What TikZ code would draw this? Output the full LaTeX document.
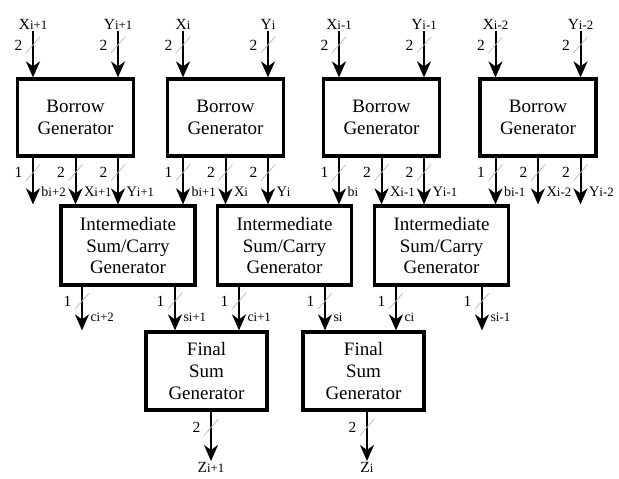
\documentclass[tikz,border=0pt]{standalone}
\usepackage{fontspec}
\setmainfont{Liberation Serif}
\usetikzlibrary{arrows.meta}
\newcommand\lsub[1]{{\fontsize{12.8}{12.8}\selectfont #1}}
\newcommand\lowl[1]{{\fontsize{14}{14}\selectfont #1}}
\begin{document}
\begin{tikzpicture}[x=1pt,y=-1pt,
  box/.style={draw,line width=3.2pt,align=center,font=\fontsize{19}{21.7}\selectfont,inner sep=0pt},
  bgbox/.style={box,minimum width=116pt,minimum height=77pt},
  igbox/.style={box,minimum width=134pt,minimum height=79pt},
  fsbox/.style={box,minimum width=121pt,minimum height=78pt},
  arr/.style={line width=2pt,-{Stealth[length=16pt,width=14pt,inset=5pt]}},
  toplbl/.style={font=\fontsize{15.5}{15.5}\selectfont,inner sep=1pt,anchor=south},
  botlbl/.style={font=\fontsize{15.5}{15.5}\selectfont,inner sep=1pt,anchor=north},
  tiplbl/.style={font=\fontsize{14.5}{14.5}\selectfont,inner sep=0pt,anchor=west,xshift=7.5pt},
  numlbl/.style={font=\fontsize{15.5}{15.5}\selectfont,inner sep=0pt},
  slashline/.style={draw=gray!55,line width=0.7pt,-},
  bus/.pic={\draw[slashline] (-7pt,-8pt) -- (7pt,8pt); \node[numlbl] at (-14.5pt,0pt) {#1};}
]
\useasboundingbox (0,0) rectangle (619,479);
% Borrow generators
\node[bgbox] (bg1) at (75.5,117.5) {Borrow\\Generator};
\node[bgbox] (bg2) at (225.5,117.5) {Borrow\\Generator};
\node[bgbox] (bg3) at (381.5,117.5) {Borrow\\Generator};
\node[bgbox] (bg4) at (538,117.5) {Borrow\\Generator};
% Intermediate
\node[igbox] (ig1) at (128,245.5) {Intermediate\\Sum/Carry\\Generator};
\node[igbox] (ig2) at (284.5,245.5) {Intermediate\\Sum/Carry\\Generator};
\node[igbox] (ig3) at (441.5,245.5) {Intermediate\\Sum/Carry\\Generator};
% Final
\node[fsbox] (fs1) at (206.5,371) {Final\\Sum\\Generator};
\node[fsbox] (fs2) at (363.5,371) {Final\\Sum\\Generator};
% top labels
\node[toplbl] (x1) at (33,31) {X\lsub{i+1}};
\node[toplbl] (y1) at (118,31) {Y\lsub{i+1}};
\node[toplbl] (x2) at (183,31) {X\lsub{i}};
\node[toplbl] (y2) at (268,31) {Y\lsub{i}};
\node[toplbl] (x3) at (339,31) {X\lsub{i-1}};
\node[toplbl] (y3) at (424,31) {Y\lsub{i-1}};
\node[toplbl] (x4) at (495.5,31) {X\lsub{i-2}};
\node[toplbl] (y4) at (580.5,31) {Y\lsub{i-2}};
\foreach \n/\b in {x1/bg1,y1/bg1,x2/bg2,y2/bg2,x3/bg3,y3/bg3,x4/bg4,y4/bg4}
  \draw[arr] (\n.south) -- pic[pos=0.3]{bus=2} (\n.south |- \b.north);
% borrow outputs
\draw[arr] ([xshift=-42.5]bg1.south) coordinate (a) -- pic[pos=0.32]{bus=1} node[tiplbl,pos=0.72]{\lowl{b}\lsub{i+2}} (a |- ig1.north);
\draw[arr] (bg1.south) coordinate (a) -- pic[pos=0.32]{bus=2} node[tiplbl,pos=0.72]{X\lsub{i+1}} (a |- ig1.north);
\draw[arr] ([xshift=42.5]bg1.south) coordinate (a) -- pic[pos=0.32]{bus=2} node[tiplbl,pos=0.72]{Y\lsub{i+1}} (a |- ig1.north);
\draw[arr] ([xshift=-42.5]bg2.south) coordinate (a) -- pic[pos=0.32]{bus=1} node[tiplbl,pos=0.72]{\lowl{b}\lsub{i+1}} (a |- ig1.north);
\draw[arr] (bg2.south) coordinate (a) -- pic[pos=0.32]{bus=2} node[tiplbl,pos=0.72]{X\lsub{i}} (a |- ig2.north);
\draw[arr] ([xshift=42.5]bg2.south) coordinate (a) -- pic[pos=0.32]{bus=2} node[tiplbl,pos=0.72]{Y\lsub{i}} (a |- ig2.north);
\draw[arr] ([xshift=-42.5]bg3.south) coordinate (a) -- pic[pos=0.32]{bus=1} node[tiplbl,pos=0.72]{\lowl{b}\lsub{i}} (a |- ig2.north);
\draw[arr] (bg3.south) coordinate (a) -- pic[pos=0.32]{bus=2} node[tiplbl,pos=0.72]{X\lsub{i-1}} (a |- ig3.north);
\draw[arr] ([xshift=42.5]bg3.south) coordinate (a) -- pic[pos=0.32]{bus=2} node[tiplbl,pos=0.72]{Y\lsub{i-1}} (a |- ig3.north);
\draw[arr] ([xshift=-42.5]bg4.south) coordinate (a) -- pic[pos=0.32]{bus=1} node[tiplbl,pos=0.72]{\lowl{b}\lsub{i-1}} (a |- ig3.north);
\draw[arr] (bg4.south) coordinate (a) -- pic[pos=0.32]{bus=2} node[tiplbl,pos=0.72]{X\lsub{i-2}} (a |- ig3.north);
\draw[arr] ([xshift=42.5]bg4.south) coordinate (a) -- pic[pos=0.32]{bus=2} node[tiplbl,pos=0.72]{Y\lsub{i-2}} (a |- ig3.north);
% intermediate outputs
\draw[arr] ([xshift=-46]ig1.south) coordinate (a) -- pic[pos=0.33]{bus=1} node[tiplbl,pos=0.7]{\lowl{c}\lsub{i+2}} (a |- fs1.north);
\draw[arr] ([xshift=47]ig1.south) coordinate (a) -- pic[pos=0.33]{bus=1} node[tiplbl,pos=0.7]{\lowl{s}\lsub{i+1}} (a |- fs1.north);
\draw[arr] ([xshift=-45.5]ig2.south) coordinate (a) -- pic[pos=0.33]{bus=1} node[tiplbl,pos=0.7]{\lowl{c}\lsub{i+1}} (a |- fs1.north);
\draw[arr] ([xshift=40.5]ig2.south) coordinate (a) -- pic[pos=0.33]{bus=1} node[tiplbl,pos=0.7]{\lowl{s}\lsub{i}} (a |- fs2.north);
\draw[arr] ([xshift=-45.5]ig3.south) coordinate (a) -- pic[pos=0.33]{bus=1} node[tiplbl,pos=0.7]{\lowl{c}\lsub{i}} (a |- fs2.north);
\draw[arr] ([xshift=40.5]ig3.south) coordinate (a) -- pic[pos=0.33]{bus=1} node[tiplbl,pos=0.7]{\lowl{s}\lsub{i-1}} (a |- fs2.north);
% final outputs
\node[botlbl] (z1) at (211,461) {Z\lsub{i+1}};
\node[botlbl] (z2) at (367,461) {Z\lsub{i}};
\draw[arr] (z1.north |- fs1.south) -- pic[pos=0.32]{bus=2} (z1.north);
\draw[arr] (z2.north |- fs2.south) -- pic[pos=0.32]{bus=2} (z2.north);
\end{tikzpicture}
\end{document}
